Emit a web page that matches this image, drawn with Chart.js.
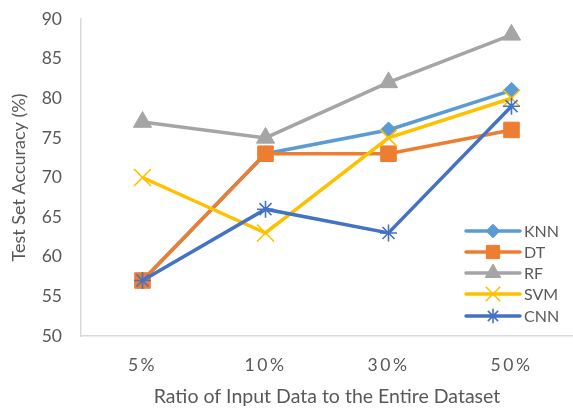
<!DOCTYPE html>
<html><head><meta charset="utf-8">
<script src="https://cdn.jsdelivr.net/npm/chart.js@4/dist/chart.umd.min.js"></script>
<style>html,body{margin:0;padding:0;background:#fff}#wrap{width:573px;height:408px;position:relative}</style>
</head><body><div id="wrap"><canvas id="c" width="573" height="408"></canvas></div>
<script>
const categories = ['5%', '10%', '30%', '50%'];
const knn = [57, 73, 76, 81];
const dt  = [57, 73, 73, 76];
const rf  = [77, 75, 82, 88];
const svm = [70, 63, 75, 80];
const cnn = [57, 66, 63, 79];
const seriesNames = ['KNN', 'DT', 'RF', 'SVM', 'CNN'];
const yTitle = 'Test Set Accuracy (%)';
const xTitle = 'Ratio of Input Data to the Entire Dataset';

const FONT = 'Lato';
const TXT = '#595959';
const colors = ['#5B9BD5', '#ED7D31', '#A5A5A5', '#FFC000', '#4472C4'];
const styles = [
  {pointStyle:'rectRot', radius:8, bw:1},
  {pointStyle:'rect', radius:11, bw:1},
  {pointStyle:'triangle', radius:10.5, bw:1},
  {pointStyle:'crossRot', radius:12, bw:1.6},
  {pointStyle:'star', radius:8.5, bw:1.6}
];
const values = [knn, dt, rf, svm, cnn];

const datasets = values.map((v, i) => ({
  label: seriesNames[i],
  data: v,
  borderColor: colors[i],
  backgroundColor: colors[i],
  borderWidth: 3.5,
  pointStyle: styles[i].pointStyle,
  pointRadius: styles[i].radius,
  pointHoverRadius: styles[i].radius,
  pointBorderWidth: styles[i].bw,
  pointBorderColor: colors[i],
  pointBackgroundColor: colors[i],
  tension: 0,
  order: 5 - i
}));

const legendPlugin = {
  id: 'xlLegend',
  afterLayout(chart) {
    const s = chart.scales.x;
    if (s && !s._lsPatched) {
      const orig = s.drawLabels.bind(s);
      s.drawLabels = function (ca) {
        const ctx = this.ctx;
        const prev = ctx.letterSpacing;
        ctx.letterSpacing = '2.5px';
        orig(ca);
        ctx.letterSpacing = prev || '0px';
      };
      s._lsPatched = true;
    }
  },
  afterDraw(chart) {
    const ctx = chart.ctx;
    const x0 = 466, x1 = 520, tx = 524;
    const ys = [231, 252, 273, 294, 316];
    ctx.save();
    datasets.forEach((d, i) => {
      const y = ys[i];
      ctx.strokeStyle = d.borderColor;
      ctx.lineWidth = 3.5;
      ctx.lineCap = 'round';
      ctx.beginPath(); ctx.moveTo(x0, y); ctx.lineTo(x1, y); ctx.stroke();
      const r = styles[i].radius * 0.85;
      if (Chart.helpers && Chart.helpers.drawPoint) {
        ctx.fillStyle = d.backgroundColor;
        ctx.strokeStyle = d.borderColor;
        ctx.lineWidth = styles[i].bw;
        ctx.lineCap = 'butt';
        Chart.helpers.drawPoint(ctx, {pointStyle: d.pointStyle, radius: r, rotation: 0, borderWidth: styles[i].bw}, (x0 + x1) / 2, y);
      }
      ctx.fillStyle = TXT;
      ctx.font = '16px ' + FONT;
      ctx.textAlign = 'left';
      ctx.textBaseline = 'middle';
      ctx.fillText(d.label, tx, y + 1);
    });
    ctx.restore();
  }
};

new Chart(document.getElementById('c'), {
  type: 'line',
  data: { labels: categories, datasets },
  plugins: [legendPlugin],
  options: {
    responsive: false,
    animation: false,
    devicePixelRatio: 1,
    layout: { autoPadding: false, padding: { top: 19, right: -4, left: 0, bottom: 0 } },
    plugins: { legend: { display: false }, tooltip: { enabled: false } },
    scales: {
      x: {
        offset: true,
        grid: { display: false, drawTicks: false },
        border: { display: true, color: '#D9D9D9', width: 1.5 },
        ticks: { color: TXT, font: { family: FONT, size: 17.5 }, padding: 19 },
        title: { display: true, text: xTitle, color: TXT, font: { family: FONT, size: 19.5 }, padding: { top: 4, bottom: 0 } },
        afterFit(s) { s.height = 72; s.paddingLeft = 0; s.paddingRight = 0; }
      },
      y: {
        min: 50, max: 90,
        grid: { display: false, drawTicks: false },
        border: { display: true, color: '#D9D9D9', width: 1.5 },
        ticks: { stepSize: 5, color: TXT, font: { family: FONT, size: 17.5 }, padding: 19 },
        title: { display: true, text: yTitle, color: TXT, font: { family: FONT, size: 18 }, padding: { top: 8, bottom: 0 } },
        afterFit(s) { s.width = 81; s.paddingTop = 0; s.paddingBottom = 0; }
      }
    }
  }
});
</script></body></html>
